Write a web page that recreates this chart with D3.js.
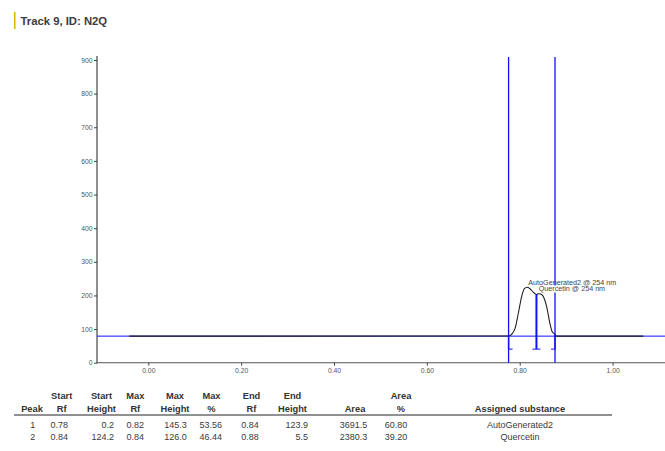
<!DOCTYPE html>
<html>
<head>
<meta charset="utf-8">
<script src="https://cdn.jsdelivr.net/npm/d3@7"></script>
<style>
  html, body { margin: 0; padding: 0; background: #fff; }
  svg { display: block; font-family: "Liberation Sans", Arial, sans-serif; }
</style>
</head>
<body>
<svg id="chart" width="665" height="451"></svg>
<script>
// Densitogram of track 9 scanned at 254 nm
const trackTitle = "Track 9, ID: N2Q";

// Raw signal (Rf, intensity in AU)
const signalRf = [-0.041, 0.776, 0.783, 0.790, 0.797, 0.804, 0.810, 0.816, 0.822, 0.829,
                  0.836, 0.842, 0.848, 0.853, 0.858, 0.865, 0.870, 0.876, 0.879, 1.066];
const signalAU = [79, 79.2, 85, 102, 147, 196, 220, 224.3, 220, 210,
                  203, 205, 202, 190, 167, 117, 92, 84.5, 79, 79];
const baselineAU = 79;

// Integrated peaks
const peakNo       = [1, 2];
const startRf      = [0.776, 0.836];
const startHeight  = [0.2, 124.2];
const maxRf        = [0.816, 0.842];
const maxHeight    = [145.3, 126.0];
const maxPercent   = [53.56, 46.44];
const endRf        = [0.836, 0.876];
const endHeight    = [123.9, 5.5];
const peakArea     = [3691.5, 2380.3];
const areaPercent  = [60.80, 39.20];
const substance    = ["AutoGenerated2", "Quercetin"];
const peakLabels   = ["AutoGenerated2 @ 254 nm", "Quercetin @ 254 nm"];

// Axis ticks
const xTicks = [0, 0.2, 0.4, 0.6, 0.8, 1.0];
const yTicks = [0, 100, 200, 300, 400, 500, 600, 700, 800, 900];

const svg = d3.select("#chart");
const blue = "#1010ff";

// Title
svg.append("rect").attr("x", 14).attr("y", 12).attr("width", 1.5).attr("height", 17).attr("fill", "#e2b100");
svg.append("text").attr("x", 20.5).attr("y", 24.5)
  .attr("font-size", 11.3).attr("font-weight", "bold").attr("fill", "#3c3c3c")
  .text(trackTitle);

// Scales
const x = d3.scaleLinear().domain([-0.1105, 1.1129]).range([97, 665]);
const y = d3.scaleLinear().domain([0, 900]).range([362.7, 60]);

// Axes
const gy = svg.append("g").attr("transform", "translate(97,0)")
  .call(d3.axisLeft(y).tickValues(yTicks).tickSize(3).tickPadding(1.5).tickFormat(d3.format("d")));
const gx = svg.append("g").attr("transform", `translate(0,${y(0)})`)
  .call(d3.axisBottom(x).tickValues(xTicks).tickSize(3).tickPadding(2.5).tickFormat(d3.format(".2f")));
[gx, gy].forEach(g => {
  g.select(".domain").remove();
  g.selectAll(".tick line").attr("stroke", "#444");
  g.selectAll(".tick text").attr("font-size", 6.8).attr("fill", "#555")
    .attr("font-family", "Liberation Sans, Arial, sans-serif");
});
svg.append("line").attr("x1", 97).attr("x2", 97).attr("y1", 56).attr("y2", y(0) + 0.5)
  .attr("stroke", "#333").attr("stroke-width", 1.1);
svg.append("line").attr("x1", 97).attr("x2", 665).attr("y1", y(0)).attr("y2", y(0))
  .attr("stroke", "#555").attr("stroke-width", 1.1);

// Integration window limits
const winStart = startRf[0], winEnd = endRf[endRf.length - 1];
[winStart, winEnd].forEach(r => {
  svg.append("line").attr("x1", x(r)).attr("x2", x(r)).attr("y1", 57).attr("y2", y(0))
    .attr("stroke", blue).attr("stroke-width", 1.3);
});

// Baseline
svg.append("line").attr("x1", 97).attr("x2", 665)
  .attr("y1", y(baselineAU)).attr("y2", y(baselineAU))
  .attr("stroke", blue).attr("stroke-width", 1);

// Signal trace
const signal = signalRf.map((r, i) => [r, signalAU[i]]);
svg.append("path").datum(signal)
  .attr("d", d3.line().x(d => x(d[0])).y(d => y(d[1])).curve(d3.curveMonotoneX))
  .attr("fill", "none").attr("stroke", "#1a1a1a").attr("stroke-width", 1.05);

// Peak boundary markers
const boundaries = [
  { rf: startRf[0], h: startHeight[0], side: 1 },
  { rf: startRf[1], h: startHeight[1], side: 0 },
  { rf: endRf[1], h: endHeight[1], side: -1 }
];
const markerBottom = y(baselineAU) + 13;
boundaries.forEach(b => {
  const bx = x(b.rf);
  svg.append("line").attr("x1", bx).attr("x2", bx)
    .attr("y1", y(baselineAU + b.h)).attr("y2", markerBottom)
    .attr("stroke", blue).attr("stroke-width", b.side === 0 ? 2 : 1.4);
  const x1 = b.side === 1 ? bx : bx - 4;
  const x2 = b.side === -1 ? bx : bx + 4;
  svg.append("line").attr("x1", x1).attr("x2", x2)
    .attr("y1", markerBottom).attr("y2", markerBottom)
    .attr("stroke", blue).attr("stroke-width", 1);
});

// Peak labels; the second one sits on a white backing over the first
const labelPos = [[528.3, 284.5], [538.7, 291]];
peakLabels.forEach((t, i) => {
  const lbl = svg.append("text").attr("x", labelPos[i][0]).attr("y", labelPos[i][1])
    .attr("font-size", 7.2).attr("fill", "#444").text(t);
  if (i > 0) {
    const bb = lbl.node().getBBox();
    svg.insert("rect", () => lbl.node())
      .attr("x", bb.x - 0.5).attr("y", bb.y + 1.5).attr("width", bb.width + 1).attr("height", bb.height - 2)
      .attr("fill", "#fff");
  }
});

// Peak table
const columns = [
  { h: ["", "Peak"], hx: 32, dx: 32.7, anchor: "middle", v: i => String(peakNo[i]) },
  { h: ["Start", "Rf"], hx: 61.7, dx: 68, anchor: "end", v: i => startRf[i].toFixed(2) },
  { h: ["Start", "Height"], hx: 101.5, dx: 114, anchor: "end", v: i => startHeight[i].toFixed(1) },
  { h: ["Max", "Rf"], hx: 135.3, dx: 144, anchor: "end", v: i => maxRf[i].toFixed(2) },
  { h: ["Max", "Height"], hx: 175, dx: 186.7, anchor: "end", v: i => maxHeight[i].toFixed(1) },
  { h: ["Max", "%"], hx: 211.5, dx: 222, anchor: "end", v: i => maxPercent[i].toFixed(2) },
  { h: ["End", "Rf"], hx: 251.5, dx: 258.7, anchor: "end", v: i => endRf[i].toFixed(2) },
  { h: ["End", "Height"], hx: 292.5, dx: 308, anchor: "end", v: i => endHeight[i].toFixed(1) },
  { h: ["", "Area"], hx: 355, dx: 367.3, anchor: "end", v: i => peakArea[i].toFixed(1) },
  { h: ["Area", "%"], hx: 401, dx: 407.3, anchor: "end", v: i => areaPercent[i].toFixed(2) },
  { h: ["", "Assigned substance"], hx: 520, dx: 520, anchor: "middle", v: i => substance[i] }
];
const table = svg.append("g");
columns.forEach(c => {
  c.h.forEach((t, k) => {
    if (!t) return;
    table.append("text").attr("x", c.hx).attr("y", k === 0 ? 399 : 411.5)
      .attr("text-anchor", "middle").attr("font-size", 9.3).attr("font-weight", "bold")
      .attr("fill", "#333").text(t);
  });
  peakNo.forEach((p, i) => {
    table.append("text").attr("x", c.dx).attr("y", 427.5 + i * 12.5)
      .attr("text-anchor", c.anchor).attr("font-size", 9).attr("fill", "#3a3a3a").text(c.v(i));
  });
});
table.append("line").attr("x1", 14).attr("x2", 612).attr("y1", 415).attr("y2", 415)
  .attr("stroke", "#222").attr("stroke-width", 1);
</script>
</body>
</html>
